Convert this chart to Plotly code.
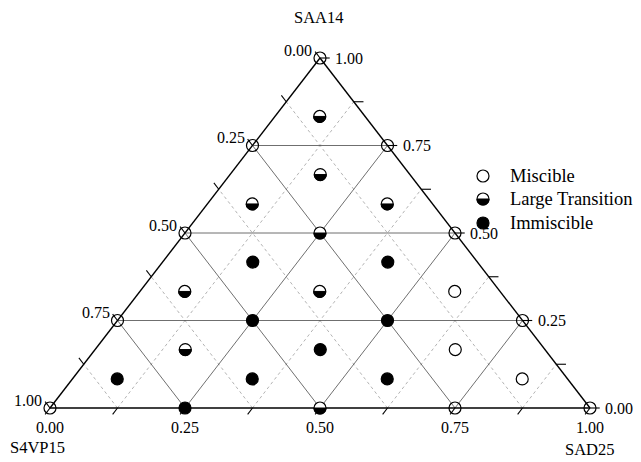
import plotly.graph_objects as go

# compositions (fractions)
saa14 = [1.0, 0.75, 0.75, 0.5, 0.5, 0.25, 0.25, 0.0, 0.0, 0.0, 0.0, 0.0,
         0.833, 0.667, 0.583, 0.583, 0.5, 0.417, 0.417, 0.333, 0.333, 0.333,
         0.25, 0.25, 0.167, 0.167, 0.167, 0.083, 0.083, 0.083, 0.083]
sad25 = [0.0, 0.0, 0.25, 0.0, 0.5, 0.0, 0.75, 0.0, 0.25, 0.5, 0.75, 1.0,
         0.083, 0.167, 0.083, 0.333, 0.25, 0.167, 0.417, 0.083, 0.333, 0.583,
         0.25, 0.5, 0.167, 0.417, 0.667, 0.083, 0.333, 0.583, 0.833]
phase = ["M", "M", "M", "M", "M", "M", "M", "M", "I", "L", "M", "M",
         "L", "L", "L", "L", "L", "I", "I", "L", "L", "M",
         "I", "I", "L", "I", "M", "I", "I", "I", "M"]
s4vp15 = [round(1 - a - b, 3) for a, b in zip(saa14, sad25)]

legend_names = {"M": "Miscible", "L": "Large Transition", "I": "Immiscible"}
tick_vals = [0.0, 0.25, 0.5, 0.75, 1.0]
minor_vals = [0.125, 0.375, 0.625, 0.875]

FONT = "Liberation Serif"
OFF = 8            # page body margin
W, H = 641 - OFF, 462 - OFF


def xy(a, b):
    # ternary -> plane, SAA14 at top, SAD25 at right
    return b + a / 2, a


def paper(x, y):
    return (x - OFF) / W, 1 - (y - OFF) / H


fig = go.Figure()


def add_lines(segs, color, width, dash="solid"):
    xs, ys = [], []
    for (a0, b0), (a1, b1) in segs:
        x0, y0 = xy(a0, b0)
        x1, y1 = xy(a1, b1)
        xs += [x0, x1, None]
        ys += [y0, y1, None]
    fig.add_trace(go.Scatter(x=xs, y=ys, mode="lines", hoverinfo="skip",
                             line=dict(color=color, width=width, dash=dash),
                             showlegend=False))


# dashed minor grid (only the two slanted families)
minor = []
for v in minor_vals:
    minor.append(((0, v), (1 - v, v)))
    minor.append(((0, 1 - v), (1 - v, 0)))
add_lines(minor, "#a0a0a0", 0.8, "dot")

# solid major grid
major = []
for v in tick_vals[1:-1]:
    major.append(((v, 0), (v, 1 - v)))
    major.append(((0, v), (1 - v, v)))
    major.append(((0, 1 - v), (1 - v, 0)))
add_lines(major, "#4a4a4a", 0.8)

# ticks
d = 0.018
ticks = []
for v in tick_vals + minor_vals:
    ticks.append(((0, v), (-d, v)))              # bottom (SAD25)
    ticks.append(((1 - v, 0), (1 - v + d, -d)))  # left (S4VP15)
    ticks.append(((v, 1 - v), (v, 1 - v + d)))   # right (SAA14)
add_lines(ticks, "black", 1.1)

# triangle frame
add_lines([((0, 0), (0, 1)), ((0, 1), (1, 0)), ((1, 0), (0, 0))], "black", 1.4)

# data points
px = [xy(a, b)[0] for a, b in zip(saa14, sad25)]
py = [xy(a, b)[1] for a, b in zip(saa14, sad25)]
for key in ["M", "L", "I"]:
    idx = [i for i, p in enumerate(phase) if p == key]
    fill = "black" if key == "I" else "white"
    fig.add_trace(go.Scatter(
        x=[px[i] for i in idx], y=[py[i] for i in idx], mode="markers",
        name=legend_names[key], showlegend=False,
        customdata=[[saa14[i], sad25[i], s4vp15[i]] for i in idx],
        hovertemplate="SAA14 %{customdata[0]}<br>SAD25 %{customdata[1]}"
                      "<br>S4VP15 %{customdata[2]}<extra>" + legend_names[key] + "</extra>",
        marker=dict(symbol="circle-open" if key == "M" else "circle", size=12,
                    color="black" if key == "M" else fill,
                    line=dict(color="black", width=1.2))))

R = 6
k = 0.552 * R
half_path = (f"M {-R},0 C {-R},{-k} {-k},{-R} 0,{-R} "
             f"C {k},{-R} {R},{-k} {R},0 Z")

shapes = []
for i, p in enumerate(phase):
    if p == "L":
        shapes.append(dict(type="path", xref="x", yref="y",
                           xsizemode="pixel", ysizemode="pixel",
                           xanchor=px[i], yanchor=py[i], path=half_path,
                           fillcolor="black", line=dict(color="black", width=1),
                           layer="above"))

# legend drawn by hand
leg_x = paper(483, 0)[0]
leg_y = [paper(0, 176)[1], paper(0, 199)[1], paper(0, 223)[1]]
for j, key in enumerate(["M", "L", "I"]):
    shapes.append(dict(type="circle", xref="paper", yref="paper",
                       xsizemode="pixel", ysizemode="pixel",
                       xanchor=leg_x, yanchor=leg_y[j],
                       x0=-R, x1=R, y0=-R, y1=R,
                       fillcolor="black" if key == "I" else "white",
                       line=dict(color="black", width=1.2)))
    if key == "L":
        shapes.append(dict(type="path", xref="paper", yref="paper",
                           xsizemode="pixel", ysizemode="pixel",
                           xanchor=leg_x, yanchor=leg_y[j], path=half_path,
                           fillcolor="black", line=dict(color="black", width=1)))

ann = []
for j, key in enumerate(["M", "L", "I"]):
    ann.append(dict(x=paper(508, 0)[0], y=leg_y[j], xref="paper", yref="paper",
                    text=legend_names[key], showarrow=False, xanchor="left",
                    yanchor="middle", font=dict(size=18.5)))

# tick labels
for v in tick_vals:
    x, y = xy(0, v)
    ann.append(dict(x=x, y=y, text=f"{v:.2f}", showarrow=False, xanchor="center",
                    yanchor="middle", yshift=-19))
    x, y = xy(1 - v, 0)
    ann.append(dict(x=x, y=y, text=f"{v:.2f}", showarrow=False, xanchor="right",
                    yanchor="middle", xshift=-6, yshift=8))
    x, y = xy(v, 1 - v)
    ann.append(dict(x=x, y=y, text=f"{v:.2f}", showarrow=False, xanchor="left",
                    yanchor="middle", xshift=13))

# axis titles
for txt, (tx, ty), anchor in [("SAA14", (319, 18), "center"),
                              ("S4VP15", (OFF, 447), "left"),
                              ("SAD25", (590, 449), "center")]:
    x, y = paper(tx, ty)
    ann.append(dict(x=x, y=y, xref="paper", yref="paper", text=txt,
                    showarrow=False, xanchor=anchor, yanchor="middle",
                    font=dict(size=16.5)))

fig.update_layout(
    width=W, height=H, margin=dict(l=0, r=0, t=0, b=0),
    paper_bgcolor="white", plot_bgcolor="white",
    font=dict(family=FONT, size=16, color="black"),
    xaxis=dict(range=[(OFF - 50) / 540, (641 - 50) / 540], visible=False,
               fixedrange=True),
    yaxis=dict(range=[(408 - 462) / 350, (408 - OFF) / 350], visible=False,
               fixedrange=True),
    shapes=shapes, annotations=ann, showlegend=False,
)

fig.write_html("out.html")
